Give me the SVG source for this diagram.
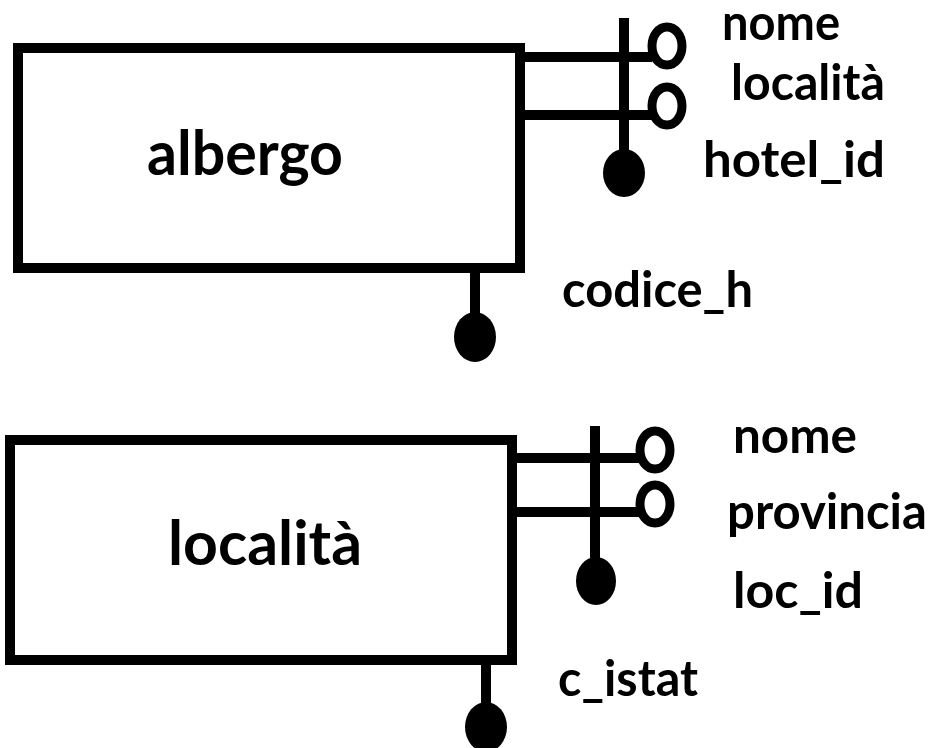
<svg xmlns="http://www.w3.org/2000/svg" width="933" height="748" viewBox="0 0 933 748">
<style>
.box{fill:#fff;stroke:#000;stroke-width:10}
.ln{stroke:#000;stroke-width:10;fill:none}
.opt{fill:#fff;stroke:#000;stroke-width:9}
.key{fill:#000}
.t{font-family:Lato,"Liberation Sans",sans-serif;font-weight:bold;fill:#000}
.big{font-size:61px}
.att{font-size:50px}
</style>
<rect width="933" height="748" fill="#fff"/>
<g id="connectors">
<line class="ln" x1="520" y1="57" x2="652" y2="57"/>
<line class="ln" x1="520" y1="115" x2="652" y2="115"/>
<line class="ln" x1="624" y1="18" x2="624" y2="165"/>
<line class="ln" x1="475" y1="268" x2="475" y2="320"/>
<line class="ln" x1="512" y1="458" x2="640" y2="458"/>
<line class="ln" x1="512" y1="512" x2="640" y2="512"/>
<line class="ln" x1="595" y1="426" x2="595" y2="570"/>
<line class="ln" x1="486" y1="660" x2="486" y2="710"/>
</g>
<g id="albergo">
<rect class="box" x="18" y="48" width="502" height="220"/>
<text class="t big" x="147" y="175" textLength="196" lengthAdjust="spacingAndGlyphs">albergo</text>
</g>
<g id="albergo-nome">
<ellipse class="opt" cx="667" cy="46" rx="15" ry="19"/>
<text class="t att" x="722" y="40" textLength="118" lengthAdjust="spacingAndGlyphs">nome</text>
</g>
<g id="albergo-localita">
<ellipse class="opt" cx="667" cy="106" rx="15" ry="19"/>
<text class="t att" x="731" y="100" textLength="154" lengthAdjust="spacingAndGlyphs">località</text>
</g>
<g id="albergo-hotel_id">
<ellipse class="key" cx="624" cy="173" rx="21" ry="24"/>
<text class="t att" x="703" y="177" textLength="182" lengthAdjust="spacingAndGlyphs">hotel_id</text>
</g>
<g id="albergo-codice_h">
<ellipse class="key" cx="475" cy="337" rx="21" ry="25"/>
<text class="t att" x="562" y="307" textLength="191" lengthAdjust="spacingAndGlyphs">codice_h</text>
</g>
<g id="localita">
<rect class="box" x="10" y="440" width="502" height="220"/>
<text class="t big" x="168" y="565" textLength="194" lengthAdjust="spacingAndGlyphs">località</text>
</g>
<g id="localita-nome">
<ellipse class="opt" cx="655" cy="450" rx="15" ry="19"/>
<text class="t att" x="733" y="453" textLength="124" lengthAdjust="spacingAndGlyphs">nome</text>
</g>
<g id="localita-provincia">
<ellipse class="opt" cx="655" cy="504" rx="15" ry="19"/>
<text class="t att" x="727" y="529" textLength="200" lengthAdjust="spacingAndGlyphs">provincia</text>
</g>
<g id="localita-loc_id">
<ellipse class="key" cx="596" cy="581" rx="20" ry="24"/>
<text class="t att" x="733" y="608" textLength="130" lengthAdjust="spacingAndGlyphs">loc_id</text>
</g>
<g id="localita-c_istat">
<ellipse class="key" cx="486" cy="727" rx="21" ry="25"/>
<text class="t att" x="558" y="696" textLength="140" lengthAdjust="spacingAndGlyphs">c_istat</text>
</g>
</svg>
